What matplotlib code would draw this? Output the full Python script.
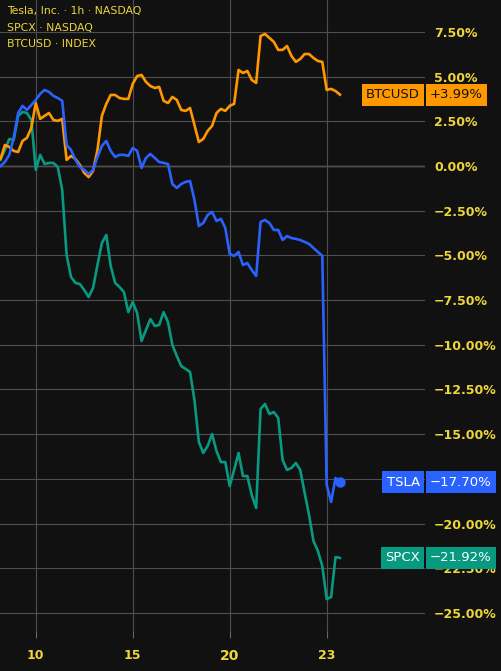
import matplotlib
matplotlib.use("Agg")
import matplotlib.pyplot as plt
from matplotlib.transforms import blended_transform_factory

# ---- data (percent change, hourly bars) ----
tsla = [0.00, 0.22, 0.62, 1.57, 2.96, 3.36, 3.13, 3.41, 3.69, 4.03,
        4.25, 4.14, 3.92, 3.80, 3.64, 1.17, 0.89, 0.34, -0.06, -0.22,
        -0.45, -0.22, 0.50, 1.12, 1.40, 0.84, 0.50, 0.62, 0.62, 0.56,
        1.01, 0.84, -0.11, 0.45, 0.67, 0.45, 0.22, 0.17, 0.11, -1.01,
        -1.23, -1.01, -0.89, -0.84, -1.90, -3.36, -3.19, -2.74, -2.57, -3.08,
        -2.96, -3.47, -4.92, -5.03, -4.81, -5.54, -5.43, -5.82, -6.15, -3.13,
        -3.02, -3.19, -3.58, -3.58, -4.14, -3.92, -4.03, -4.08, -4.14, -4.25,
        -4.36, -4.59, -4.81, -5.03, -17.84, -18.79, -17.45, -17.70]
spcx = [0.34, 0.89, 1.51, 1.45, 2.80, 3.02, 2.96, 2.57, -0.22, 0.62,
        0.11, 0.17, 0.17, -0.06, -1.34, -4.98, -6.21, -6.54, -6.60, -6.94,
        -7.33, -6.82, -5.54, -4.31, -3.86, -5.59, -6.54, -6.77, -7.05, -8.17,
        -7.61, -8.22, -9.79, -9.17, -8.56, -8.95, -8.89, -8.17, -8.73, -10.01,
        -10.63, -11.19, -11.35, -11.52, -13.09, -15.44, -16.05, -15.66, -14.99, -15.94,
        -16.56, -16.56, -17.90, -17.00, -16.05, -17.34, -17.34, -18.40, -19.13, -13.59,
        -13.31, -13.87, -13.76, -14.09, -16.44, -17.00, -16.89, -16.61, -17.00, -18.29,
        -19.52, -20.97, -21.53, -22.37, -24.22, -24.11, -21.87, -21.92]
btcusd = [0.39, 1.17, 1.06, 0.84, 0.78, 1.40, 1.57, 2.13, 3.52, 2.63,
          2.80, 2.96, 2.57, 2.52, 2.63, 0.34, 0.56, 0.39, 0.06, -0.39,
          -0.62, -0.28, 0.89, 2.80, 3.47, 3.97, 3.97, 3.80, 3.75, 3.75,
          4.59, 5.03, 5.09, 4.70, 4.47, 4.36, 4.42, 3.64, 3.52, 3.86,
          3.69, 3.13, 3.08, 3.24, 2.29, 1.34, 1.51, 1.96, 2.24, 2.96,
          3.19, 3.08, 3.36, 3.47, 5.37, 5.20, 5.31, 4.81, 4.64, 7.27,
          7.38, 7.16, 6.94, 6.49, 6.49, 6.71, 6.15, 5.82, 5.98, 6.26,
          6.26, 6.04, 5.87, 5.82, 4.25, 4.31, 4.19, 3.99]
x_tick_pos = [8, 30, 52, 74]
x_tick_labels = ["10", "15", "20", "23"]
y_ticks = [-25.0, -22.5, -20.0, -17.5, -15.0, -12.5, -10.0, -7.5, -5.0, -2.5, 0.0, 2.5, 5.0, 7.5]
hidden_y_ticks = [-17.5]  # fully covered by the TSLA price label in the reference
legend_lines = ["Tesla, Inc. \u00b7 1h \u00b7 NASDAQ", "SPCX \u00b7 NASDAQ", "BTCUSD \u00b7 INDEX"]
names = ["TSLA", "SPCX", "BTCUSD"]

BG = "#111111"
YEL = "#EED63A"
C_TSLA = "#2962FF"
C_SPCX = "#089981"
C_BTC = "#FF9800"

W, H = 501, 671
fig = plt.figure(figsize=(W / 100, H / 100), dpi=100, facecolor=BG)
ax = fig.add_axes([0, 1 - 630 / H, 425 / W, 630 / H])
ax.set_facecolor(BG)
for s in ax.spines.values():
    s.set_visible(False)

xs = list(range(len(tsla)))
ax.plot(xs, spcx, color=C_SPCX, lw=1.9, zorder=3, solid_joinstyle="round")
ax.plot(xs, btcusd, color=C_BTC, lw=1.9, zorder=4, solid_joinstyle="round")
ax.plot(xs, tsla, color=C_TSLA, lw=1.9, zorder=5, solid_joinstyle="round")
ax.plot([xs[-1]], [tsla[-1]], "o", color=C_TSLA, ms=6.5, zorder=6)

ax.set_xlim(-0.11, 96.3)
ax.set_ylim(-25.95, 9.28)

ax.set_yticks(y_ticks)
ax.set_yticklabels(["" if v in hidden_y_ticks else
                    ("\u2212" if v < 0 else "") + f"{abs(v):.2f}%" for v in y_ticks])
ax.yaxis.tick_right()
ax.tick_params(axis="y", length=0, pad=6.5, colors=YEL, labelsize=9)
for t in ax.get_yticklabels():
    t.set_fontweight("bold")
ax.set_xticks(x_tick_pos)
ax.set_xticklabels(x_tick_labels)
ax.tick_params(axis="x", length=6, width=0.8, direction="out",
               pad=8, colors=YEL, labelsize=9)
ax.tick_params(axis="x", color="#666666")
for t in ax.get_xticklabels():
    t.set_fontweight("bold")
    if t.get_text() == "20":
        t.set_fontsize(10)

ax.grid(True, color="#4f4f4f", lw=0.8, zorder=0)
ax.axhline(0, color="#c8c8c8", lw=0.9, zorder=1)

# legend text top-left
for i, s in enumerate(legend_lines):
    fig.text(7 / W, 1 - (11 + 16.5 * i) / H, s, color=YEL, fontsize=7.8,
             va="center", ha="left")

# right-side labels
tr = blended_transform_factory(fig.transFigure, ax.transData)
for name, series, col, tcol in [("TSLA", tsla, C_TSLA, "white"),
                                ("SPCX", spcx, C_SPCX, "white"),
                                ("BTCUSD", btcusd, C_BTC, "#131313")]:
    v = series[-1]
    val = ("+" if v >= 0 else "\u2212") + f"{abs(v):.2f}%"
    ax.text(420 / W, v, name, transform=tr, ha="right", va="center",
            color=tcol, fontsize=9.5, zorder=10, clip_on=False,
            bbox=dict(boxstyle="square,pad=0.34", fc=col, ec="none"))
    ax.text(430 / W, v, val, transform=tr, ha="left", va="center",
            color=tcol, fontsize=9.5, zorder=10, clip_on=False,
            bbox=dict(boxstyle="square,pad=0.34", fc=col, ec="none"))

fig.savefig("out.png", dpi=100, facecolor=BG)
